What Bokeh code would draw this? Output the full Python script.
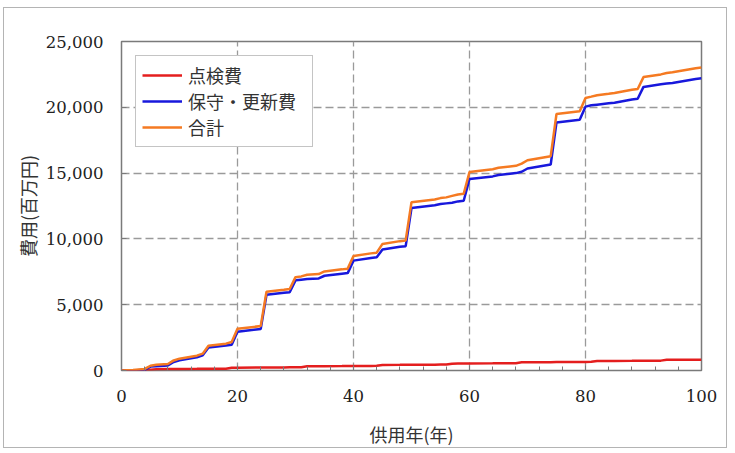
from bokeh.plotting import figure
from bokeh.models import Range1d, FixedTicker, NumeralTickFormatter, Legend, LegendItem
from bokeh.embed import file_html
from bokeh.resources import INLINE

# 供用年 (years in service)
years = [0, 2, 4, 5, 6, 8, 9, 10, 13, 14, 15, 18, 19, 20, 24, 25, 28, 29, 30, 31,
         32, 34, 35, 38, 39, 40, 43, 44, 45, 48, 49, 50, 54, 55, 56, 57, 58, 59, 60, 64,
         65, 68, 69, 70, 74, 75, 79, 80, 81, 82, 84, 85, 88, 89, 90, 93, 94, 95, 99, 100]

# 点検費 (inspection cost, million yen)
inspection = [0, 0, 20, 60, 100, 110, 115, 120, 125, 130, 135, 140, 210, 215, 225, 230, 235, 240, 245, 250,
              320, 325, 330, 335, 340, 345, 350, 355, 420, 430, 435, 440, 445, 450, 455, 520, 525, 530, 535, 545,
              550, 555, 620, 625, 635, 640, 650, 655, 660, 720, 725, 730, 735, 740, 745, 750, 810, 815, 820, 820]

# 保守・更新費 (maintenance / renewal cost)
maintenance = [0, 0, 50, 300, 330, 380, 650, 780, 1000, 1150, 1750, 1900, 1950, 2950, 3150, 5750, 5900, 5950, 6850, 6900,
               6950, 7000, 7200, 7350, 7400, 8350, 8550, 8600, 9200, 9400, 9450, 12350, 12550, 12650, 12700, 12750, 12850, 12900, 14550, 14750,
               14850, 15000, 15100, 15350, 15650, 18850, 19050, 20050, 20150, 20200, 20300, 20350, 20600, 20650, 21550, 21750, 21800, 21850, 22150, 22200]

# 合計 (total)
total = [0, 30, 120, 360, 430, 490, 765, 900, 1125, 1280, 1885, 2040, 2160, 3165, 3375, 5980, 6135, 6190, 7095, 7150,
         7270, 7325, 7530, 7685, 7740, 8695, 8900, 8955, 9620, 9830, 9885, 12790, 12995, 13100, 13155, 13270, 13375, 13430, 15085, 15295,
         15400, 15555, 15720, 15975, 16285, 19490, 19700, 20705, 20810, 20920, 21025, 21080, 21335, 21390, 22295, 22500, 22610, 22665, 22970, 23020]

x_ticks = [0, 20, 40, 60, 80, 100]
y_ticks = [0, 5000, 10000, 15000, 20000, 25000]
labels = ["点検費", "保守・更新費", "合計"]
colors = ["#e41e1e", "#1818dc", "#f57a22"]

SERIF = "DejaVu Serif"
CJK = "Noto Sans CJK JP"

p = figure(width=724, height=441, output_backend="svg", toolbar_location=None,
           x_range=Range1d(0, 100), y_range=Range1d(0, 25000),
           min_border_left=117, min_border_right=27, min_border_top=33, min_border_bottom=75,
           background_fill_color="white", border_fill_color="white")
p.styles = {"border": "1px solid #b4b4b4", "margin-left": "3px", "margin-top": "7px"}

p.outline_line_color = "#7a7a7a"
p.outline_line_width = 1.5

p.xaxis.ticker = FixedTicker(ticks=x_ticks, minor_ticks=list(range(0, 101, 4)))
p.yaxis.ticker = FixedTicker(ticks=y_ticks)
p.yaxis.formatter = NumeralTickFormatter(format="0,0")

for ax in (p.xaxis, p.yaxis):
    ax.axis_line_color = None
    ax.major_tick_in = 5
    ax.major_tick_out = 0
    ax.major_tick_line_color = "#7a7a7a"
    ax.major_label_text_font = SERIF
    ax.major_label_text_font_size = "16.5px"
    ax.major_label_text_color = "#222222"
    ax.axis_label_text_font = CJK
    ax.axis_label_text_font_style = "normal"
    ax.axis_label_text_font_size = "18px"
    ax.axis_label_text_color = "#333333"

p.xaxis.minor_tick_in = 4
p.xaxis.minor_tick_out = 0
p.xaxis.minor_tick_line_color = "#7a7a7a"
p.yaxis.minor_tick_line_color = None

p.xaxis.axis_label = "供用年(年)"
p.yaxis.axis_label = "費用(百万円)"
p.yaxis.major_label_standoff = 18
p.yaxis.axis_label_standoff = 2
p.xaxis.major_label_standoff = 19
p.xaxis.axis_label_standoff = 16

p.xgrid.ticker = FixedTicker(ticks=x_ticks)
p.ygrid.ticker = FixedTicker(ticks=y_ticks)
for g in (p.xgrid, p.ygrid):
    g.grid_line_color = "#9a9a9a"
    g.grid_line_dash = "8 4"
    g.grid_line_width = 1.3

r1 = p.line(years, inspection, line_color=colors[0], line_width=2.5)
r2 = p.line(years, maintenance, line_color=colors[1], line_width=2.5)
r3 = p.line(years, total, line_color=colors[2], line_width=2.5)

legend = Legend(items=[LegendItem(label=labels[0], renderers=[r1]),
                       LegendItem(label=labels[1], renderers=[r2]),
                       LegendItem(label=labels[2], renderers=[r3])],
                location="top_left", margin=14, padding=6, spacing=0,
                glyph_width=40, glyph_height=20, label_height=20, label_width=118,
                label_standoff=6,
                label_text_font=CJK, label_text_font_size="18px", label_text_color="#333333",
                border_line_color="#8a8a8a", border_line_width=1.2,
                background_fill_color="white", background_fill_alpha=1.0)
p.add_layout(legend)

open("out.html", "w").write(file_html(p, INLINE))
